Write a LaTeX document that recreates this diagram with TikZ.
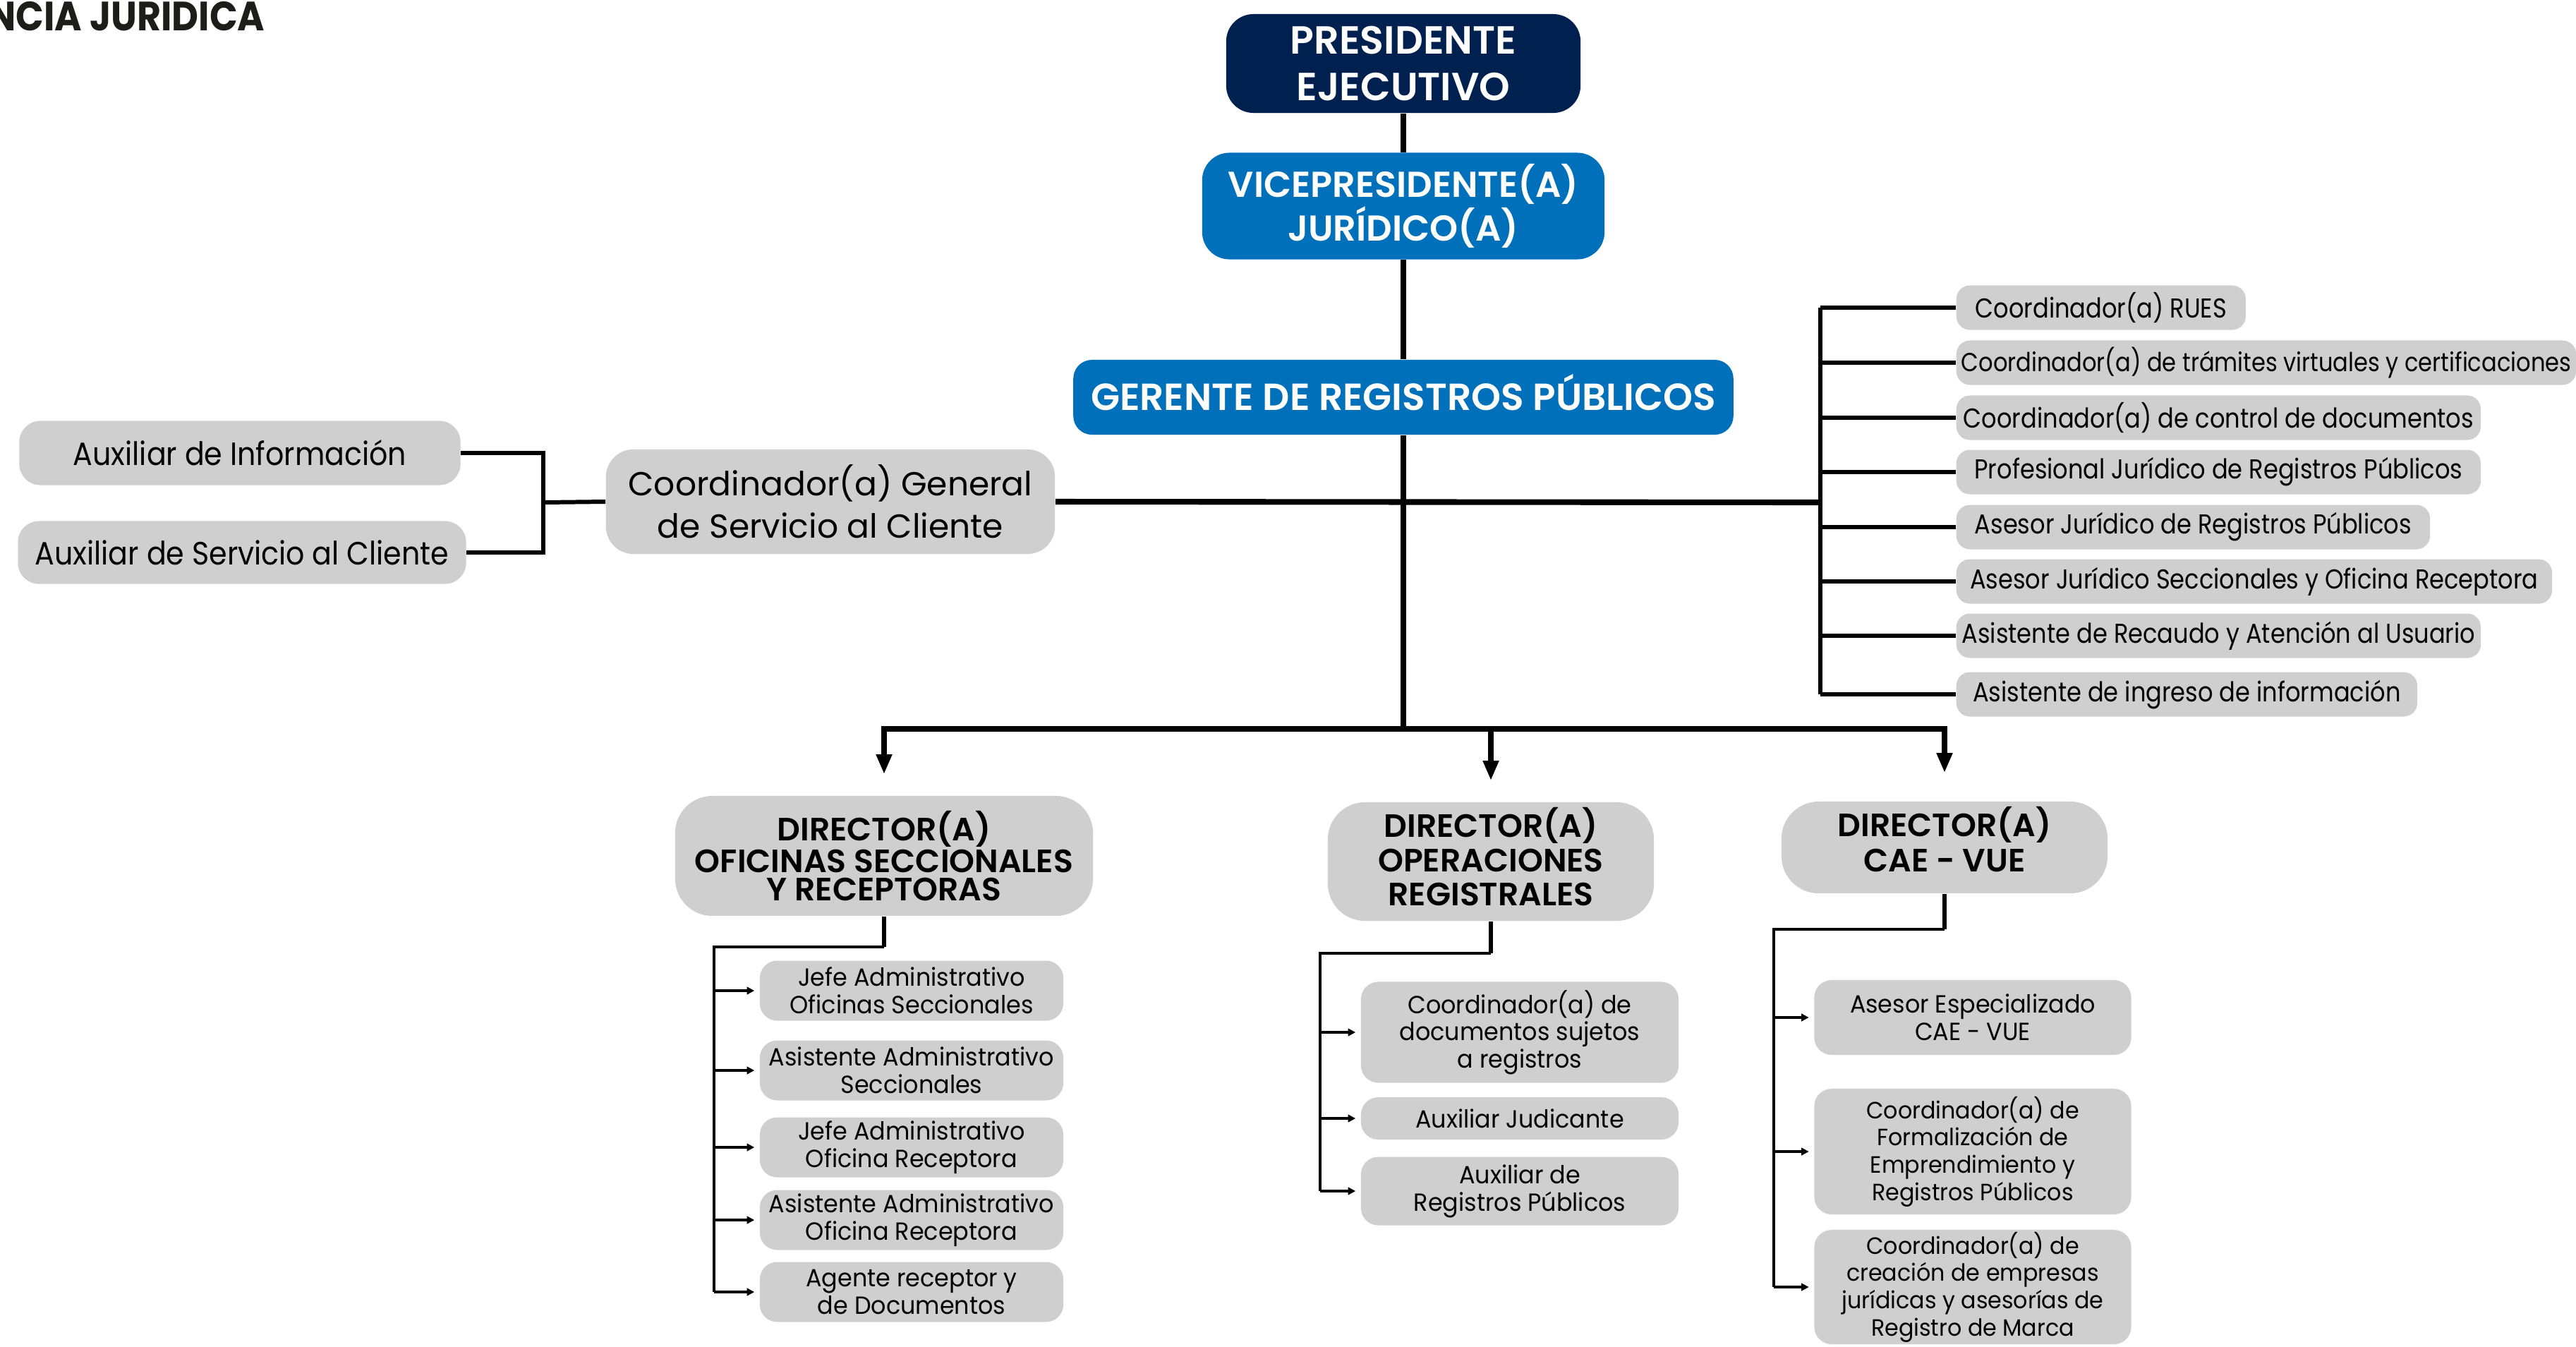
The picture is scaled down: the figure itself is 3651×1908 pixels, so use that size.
\documentclass[tikz,border=0pt]{standalone}
\usepackage{fontspec}
\setmainfont{Poppins}
\newfontfamily\hdfont{Poppins SemiBold}
\newfontfamily\titfont[FakeStretch=0.9]{Poppins Bold}
\newfontfamily\listfont[FakeStretch=0.87]{Poppins}
\newfontfamily\auxfont[FakeStretch=0.9]{Poppins}
\newfontfamily\subfont[FakeStretch=0.95]{Poppins}
\usetikzlibrary{arrows.meta, positioning}

\definecolor{navy}{RGB}{0,33,80}
\definecolor{azul}{RGB}{0,112,186}
\definecolor{gris}{RGB}{207,207,207}
\definecolor{tinta}{RGB}{29,29,27}

\tikzset{
    jefe/.style   = {fill = navy, text = white, rounded corners = 11pt, inner sep = 0pt, align = center,
                     font = \hdfont\fontsize{15.8}{19}\selectfont},
    vice/.style   = {fill = azul, text = white, rounded corners = 11pt, inner sep = 0pt, align = center,
                     font = \hdfont\fontsize{14.5}{17.7}\selectfont},
    direc/.style  = {fill = gris, text = black, rounded corners = 15pt, inner sep = 0pt, align = center},
    cargo/.style  = {fill = gris, text = black, rounded corners = 7pt, inner sep = 0pt, align = center,
                     font = \subfont\fontsize{10}{11}\selectfont},
    lista/.style  = {fill = gris, text = black, rounded corners = 5.5pt, inner sep = 0pt, align = center,
                     minimum height = 0.63cm, anchor = west, font = \listfont\fontsize{11}{12}\selectfont},
    tronco/.style = {line width = 2.3pt},
    rama/.style   = {line width = 1.7pt},
    tallo/.style  = {line width = 1.8pt},
    sub/.style    = {line width = 1pt},
    baja/.style   = {tronco, -{Triangle[length = 8pt, width = 6pt]}, shorten >= 0.3cm},
    flecha/.style = {sub, -{Triangle[length = 3pt, width = 3pt]}, shorten >= 0.07cm},
}

\begin{document}
\begin{tikzpicture}[x = 0.01cm, y = -0.01cm]

    \useasboundingbox (0,0) rectangle (3651,1908);

    \node[anchor = base east, inner sep = 0pt, text = tinta, font = \titfont\fontsize{16.5}{18}\selectfont]
        (titulo) at (376,43) {NCIA JURIDICA};

    % cabeza
    \node[jefe, minimum width = 5.02cm, minimum height = 1.40cm] (pres) at (1989,90) {PRESIDENTE\\EJECUTIVO};
    \node[vice, minimum width = 5.70cm, minimum height = 1.51cm] (vice) at (1989,292) {VICEPRESIDENTE(A)\\JURÍDICO(A)};
    \node[vice, rounded corners = 7.5pt, minimum width = 9.35cm, minimum height = 1.06cm, text depth = 0.14cm,
          font = \hdfont\fontsize{15.2}{17}\selectfont] (ger) at (1989,563) {GERENTE DE REGISTROS PÚBLICOS};

    \coordinate (ramaDer) at (2580,712);
    \coordinate (ramaIzq) at (770,712);
    \coordinate (junta)   at (1989,1033);

    \draw[tronco] (pres) -- (vice);
    \draw[tronco] (vice) -- (ger);
    \draw[tronco] (ger.south) -- (junta);

    % servicio al cliente
    \node[direc, rounded corners = 11pt, minimum width = 6.36cm, minimum height = 1.48cm,
          font = \fontsize{13.4}{17}\selectfont] (coordGen) at (1177,711) {Coordinador(a) General\\de Servicio al Cliente};
    \node[direc, rounded corners = 8.5pt, minimum width = 6.25cm, minimum height = 0.91cm,
          font = \auxfont\fontsize{13}{15}\selectfont] (auxInfo) at (340,642) {Auxiliar de Información};
    \node[direc, rounded corners = 8.5pt, minimum width = 6.35cm, minimum height = 0.89cm,
          font = \auxfont\fontsize{13}{15}\selectfont] (auxServ) at (343,783) {Auxiliar de Servicio al Cliente};

    \draw[tronco] (coordGen.east) -- (ramaDer);
    \draw[rama] (coordGen.west) -- (ramaIzq);
    \draw[rama] (auxInfo.east) -- (auxInfo.east -| ramaIzq) -- (auxServ.east -| ramaIzq) -- (auxServ.east);

    % lista de la derecha
    \foreach \n/\txt/\w/\y in {
        1/Coordinador(a) RUES/4.10/436,
        2/{\fontsize{10.5}{12}\selectfont Coordinador(a) de trámites virtuales y certificaciones}/8.78/514,
        3/Coordinador(a) de control de documentos/7.43/592,
        4/Profesional Jurídico de Registros Públicos/7.43/669,
        5/Asesor Jurídico de Registros Públicos/6.71/747,
        6/Asesor Jurídico Seccionales y Oficina Receptora/8.44/824,
        7/Asistente de Recaudo y Atención al Usuario/7.43/901,
        8/Asistente de ingreso de información/6.53/984}
    {
        \node[lista, minimum width = \w cm] (der\n) at (2772,\y) {\txt};
        \draw[rama] (der\n.west -| ramaDer) -- (der\n.west);
    }
    \draw[rama] (der1.west -| ramaDer) -- (der8.west -| ramaDer);

    % directores
    \node[direc, minimum width = 5.92cm, minimum height = 1.70cm, font = \hdfont\fontsize{13}{11.5}\selectfont]
        (dirOf) at (1253,1213) {DIRECTOR(A)\\OFICINAS SECCIONALES\\Y RECEPTORAS};
    \node[direc, minimum width = 4.62cm, minimum height = 1.68cm, text depth = 0.14cm,
          font = \hdfont\fontsize{13}{13.7}\selectfont]
        (dirOp) at (2113,1221) {DIRECTOR(A)\\OPERACIONES\\REGISTRALES};
    \node[direc, minimum width = 4.62cm, minimum height = 1.30cm, text depth = 0.24cm,
          font = \hdfont\fontsize{13}{14.2}\selectfont]
        (dirCae) at (2756,1201) {DIRECTOR(A)\\CAE - VUE};

    \draw[baja] (junta) -| (dirOf.north);
    \draw[baja] (junta) -| (dirOp.north);
    \draw[baja, shorten >= 0.4cm] (junta) -| (dirCae.north);

    % oficinas seccionales
    \coordinate (espOf) at (1012,1342);
    \foreach \n/\txt/\y in {
        1/{Jefe Administrativo\\Oficinas Seccionales}/1404,
        2/{Asistente Administrativo\\Seccionales}/1517,
        3/{Jefe Administrativo\\Oficina Receptora}/1626,
        4/{Asistente Administrativo\\Oficina Receptora}/1729,
        5/{Agente receptor y\\de Documentos}/1831}
    {
        \node[cargo, minimum width = 4.30cm, minimum height = 0.85cm] (of\n) at (1292,\y) {\txt};
        \draw[flecha] (of\n.west -| espOf) -- (of\n.west);
    }
    \draw[tallo] (dirOf.south) -- (dirOf.south |- espOf);
    \draw[sub] (dirOf.south |- espOf) -- (espOf) -- (espOf |- of5.west);

    % operaciones registrales
    \coordinate (espOp) at (1871,1351);
    \node[cargo, minimum width = 4.50cm, minimum height = 1.43cm] (op1) at (2154,1463)
        {Coordinador(a) de\\documentos sujetos\\a registros};
    \node[cargo, minimum width = 4.50cm, minimum height = 0.60cm] (op2) at (2154,1585) {Auxiliar Judicante};
    \node[cargo, minimum width = 4.50cm, minimum height = 0.97cm] (op3) at (2154,1688)
        {Auxiliar de\\Registros Públicos};
    \foreach \n in {1,2,3}
        \draw[flecha] (op\n.west -| espOp) -- (op\n.west);
    \draw[tallo] (dirOp.south) -- (dirOp.south |- espOp);
    \draw[sub] (dirOp.south |- espOp) -- (espOp) -- (espOp |- op3.west);

    % cae - vue
    \coordinate (espCae) at (2514,1317);
    \node[cargo, minimum width = 4.49cm, minimum height = 1.06cm] (cae1) at (2796,1442)
        {Asesor Especializado\\CAE - VUE};
    \node[cargo, minimum width = 4.49cm, minimum height = 1.78cm, font = \subfont\fontsize{9.5}{11}\selectfont] (cae2) at (2796,1632)
        {Coordinador(a) de\\Formalización de\\Emprendimiento y\\Registros Públicos};
    \node[cargo, minimum width = 4.49cm, minimum height = 1.62cm, font = \subfont\fontsize{9.5}{11}\selectfont] (cae3) at (2796,1824)
        {Coordinador(a) de\\creación de empresas\\jurídicas y asesorías de\\Registro de Marca};
    \foreach \n in {1,2,3}
        \draw[flecha] (cae\n.west -| espCae) -- (cae\n.west);
    \draw[tallo] (dirCae.south) -- (dirCae.south |- espCae);
    \draw[sub] (dirCae.south |- espCae) -- (espCae) -- (espCae |- cae3.west);

\end{tikzpicture}
\end{document}
